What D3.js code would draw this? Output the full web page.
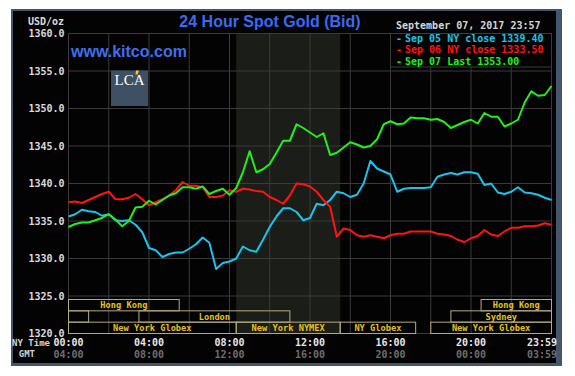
<!DOCTYPE html>
<html>
<head>
<meta charset="utf-8">
<script src="https://cdn.jsdelivr.net/npm/d3@7"></script>
<style>
  body { margin: 0; background: #fff; }
  svg text { font-family: "DejaVu Sans Mono", monospace; font-weight: bold; }
</style>
</head>
<body>
<div id="chart"></div>
<script>
// one sample every 20 minutes, NY time 00:00 -> 24:00
const stepMinutes = 20;

const sep05 = [
  1335.6, 1335.9, 1336.5, 1336.3, 1336.2, 1335.7, 1335.9, 1335.1, 1335.0, 1335.1, 1334.5, 1333.5, 1331.4, 1331.1, 1330.2, 1330.6, 1330.8, 1330.8, 1331.3,
  1331.9, 1332.8, 1332.1, 1328.6, 1329.4, 1329.6, 1330.0, 1331.6, 1331.1, 1330.9, 1332.5, 1334.2, 1335.6, 1336.7, 1336.7, 1336.2, 1335.1, 1335.4,
  1337.3, 1337.1, 1337.8, 1338.9, 1338.7, 1338.2, 1338.5, 1340.0, 1343.0, 1342.0, 1341.6, 1341.2, 1338.9, 1339.3, 1339.4, 1339.4, 1339.4, 1339.5,
  1340.9, 1341.2, 1341.4, 1341.2, 1341.5, 1341.5, 1341.3, 1339.8, 1340.0, 1338.8, 1338.6, 1338.9, 1339.5, 1338.8, 1338.7, 1338.5, 1338.1, 1337.8
];
const sep06 = [
  1337.5, 1337.6, 1337.4, 1337.8, 1338.2, 1338.6, 1338.9, 1337.9, 1337.9, 1338.1, 1338.6, 1337.9, 1337.1, 1337.5, 1337.9, 1338.4, 1339.1, 1340.2, 1339.7,
  1339.7, 1339.5, 1338.2, 1338.2, 1338.4, 1339.1, 1338.9, 1339.3, 1339.2, 1339.0, 1338.9, 1338.2, 1337.8, 1337.3, 1338.4, 1340.0, 1339.9, 1339.6,
  1338.9, 1337.8, 1336.9, 1332.9, 1334.0, 1333.8, 1333.1, 1332.9, 1333.1, 1332.9, 1332.7, 1333.1, 1333.3, 1333.3, 1333.6, 1333.6, 1333.6, 1333.6,
  1333.3, 1333.2, 1333.0, 1332.5, 1332.2, 1332.7, 1333.0, 1333.8, 1333.2, 1333.0, 1333.6, 1334.1, 1334.1, 1334.3, 1334.3, 1334.4, 1334.7, 1334.5
];
const sep07 = [
  1334.2, 1334.6, 1334.8, 1334.8, 1335.1, 1335.4, 1335.9, 1335.2, 1334.3, 1335.0, 1336.8, 1336.9, 1337.7, 1337.2, 1337.8, 1338.4, 1338.7, 1339.5, 1339.5,
  1339.3, 1339.6, 1338.6, 1339.0, 1339.3, 1338.5, 1339.4, 1341.5, 1344.3, 1341.5, 1341.9, 1342.6, 1344.1, 1345.7, 1345.7, 1347.9, 1347.4, 1346.8,
  1346.2, 1346.7, 1343.8, 1344.1, 1344.8, 1345.5, 1345.2, 1344.8, 1345.0, 1345.9, 1347.9, 1348.3, 1347.9, 1348.0, 1348.8, 1348.7, 1348.7, 1348.5,
  1348.6, 1348.2, 1347.4, 1347.8, 1348.2, 1348.5, 1348.0, 1349.4, 1348.9, 1348.9, 1347.6, 1348.0, 1348.5, 1350.8, 1352.3, 1351.7, 1351.8, 1353.0
];

const legendLabels = ["Sep 05 NY close 1339.40", "Sep 06 NY close 1333.50", "Sep 07 Last 1353.00"];
const lineColors = ["#1cc4ec", "#ff1414", "#22f01c"];

const priceTicks = [1320, 1325, 1330, 1335, 1340, 1345, 1350, 1355, 1360];
const hourTicks = [0, 4, 8, 12, 16, 20, 24];
const nyLabels = ["00:00", "04:00", "08:00", "12:00", "16:00", "20:00", "23:59"];
const gmtLabels = ["04:00", "08:00", "12:00", "16:00", "20:00", "00:00", "03:59"];

// trading sessions (NY hours)
const sessionNames = ["Hong Kong", "Hong Kong", "Sydney", "London", "Sydney", "New York Globex", "New York NYMEX", "NY Globex", "New York Globex"];
const sessionStart = [0, 20.5, 0, 3.5, 19, 0, 8 + 20 / 60, 13.5, 18];
const sessionEnd   = [5.5, 24, 1, 11, 24, 8 + 20 / 60, 13.5, 17.25, 24];
const sessionRow   = [0, 0, 1, 1, 1, 2, 2, 2, 2];
const nymexHours = [8 + 20 / 60, 13.5];

const W = 575, H = 376;
const gridColor = "#3b3b3b";

const svg = d3.select("#chart").append("svg")
    .attr("width", W)
    .attr("height", H);

// frame
svg.append("rect").attr("x", 11).attr("y", 9).attr("width", 551).attr("height", 357).attr("fill", "#44566b");
svg.append("rect").attr("x", 13).attr("y", 11).attr("width", 543).attr("height", 352).attr("fill", "#030303");

const x = d3.scaleLinear().domain([0, 24]).range([68.5, 551.5]);
const y = d3.scaleLinear().domain([1320, 1360]).range([333.5, 33.5]);

// NYMEX shading
svg.append("rect")
    .attr("x", x(nymexHours[0]))
    .attr("y", y(1360))
    .attr("width", x(nymexHours[1]) - x(nymexHours[0]))
    .attr("height", y(1320) - y(1360))
    .attr("fill", "#1b1d18");

// grid
svg.append("g")
    .selectAll("line")
    .data(d3.range(0, 25, 2))
    .enter().append("line")
        .attr("x1", d => x(d)).attr("x2", d => x(d))
        .attr("y1", y(1360)).attr("y2", y(1320))
        .attr("stroke", gridColor);

svg.append("g")
    .selectAll("line")
    .data(priceTicks)
    .enter().append("line")
        .attr("x1", x(0)).attr("x2", x(24))
        .attr("y1", d => y(d)).attr("y2", d => y(d))
        .attr("stroke", gridColor);

// sessions
const rowTop = 299.5, rowH = 11.33;
const sessions = svg.append("g")
    .selectAll("g")
    .data(sessionNames.map((n, i) => ({ name: n, s: sessionStart[i], e: sessionEnd[i], row: sessionRow[i] })))
    .enter().append("g");

sessions.append("rect")
    .attr("x", d => x(d.s))
    .attr("y", d => rowTop + d.row * rowH)
    .attr("width", d => x(d.e) - x(d.s))
    .attr("height", rowH)
    .attr("fill", "none")
    .attr("stroke", "#b3ac80");

sessions.append("text")
    .attr("x", d => (x(d.s) + x(d.e)) / 2)
    .attr("y", d => rowTop + d.row * rowH + 8.8)
    .attr("text-anchor", "middle")
    .attr("font-size", "8.7px")
    .attr("fill", "#e3c21c")
    .text(d => d.name)
    .each(function(d) {
        if (this.getComputedTextLength() > x(d.e) - x(d.s)) d3.select(this).remove();
    });

// price lines
const line = d3.line()
    .x((d, i) => x(i * stepMinutes / 60))
    .y(d => y(d));

[sep05, sep06, sep07].forEach(function(series, k) {
    svg.append("path")
        .datum(series)
        .attr("d", line)
        .attr("fill", "none")
        .attr("stroke", lineColors[k])
        .attr("stroke-width", 2)
        .attr("stroke-linejoin", "round");
});

// y axis labels
const yAxis = svg.append("g")
    .attr("transform", `translate(${x(0)},0)`)
    .call(d3.axisLeft(y).tickValues(priceTicks).tickFormat(d3.format(".1f")).tickSize(0).tickPadding(4));
yAxis.select(".domain").remove();
yAxis.selectAll("text")
    .attr("font-size", "10px")
    .attr("font-family", null)
    .attr("fill", "#dadada");

svg.append("text")
    .attr("x", 64).attr("y", 25)
    .attr("text-anchor", "end")
    .attr("font-size", "10px")
    .attr("fill", "#dadada")
    .text("USD/oz");

// time labels
svg.append("g")
    .selectAll("text")
    .data(hourTicks)
    .enter().append("text")
        .attr("x", (d, i) => i === hourTicks.length - 1 ? 557 : x(d))
        .attr("y", 346)
        .attr("text-anchor", (d, i) => i === hourTicks.length - 1 ? "end" : "middle")
        .attr("font-size", "10px")
        .attr("fill", "#e6e6e6")
        .text((d, i) => nyLabels[i]);

svg.append("g")
    .selectAll("text")
    .data(hourTicks)
    .enter().append("text")
        .attr("x", (d, i) => i === hourTicks.length - 1 ? 557 : x(d))
        .attr("y", 358)
        .attr("text-anchor", (d, i) => i === hourTicks.length - 1 ? "end" : "middle")
        .attr("font-size", "10px")
        .attr("fill", "#6e6e6e")
        .text((d, i) => gmtLabels[i]);

svg.append("text")
    .attr("x", 50).attr("y", 346)
    .attr("text-anchor", "end")
    .attr("font-size", "9px")
    .attr("fill", "#d2d2d2")
    .text("NY Time");

svg.append("text")
    .attr("x", 35).attr("y", 357)
    .attr("text-anchor", "end")
    .attr("font-size", "9px")
    .attr("fill", "#d2d2d2")
    .text("GMT");

// titles
svg.append("text")
    .attr("x", 270).attr("y", 27)
    .attr("text-anchor", "middle")
    .style("font-family", "'Liberation Sans', Arial, sans-serif")
    .attr("font-size", "16px")
    .attr("fill", "#3a6af4")
    .text("24 Hour Spot Gold (Bid)");

svg.append("text")
    .attr("x", 71).attr("y", 57)
    .style("font-family", "'Liberation Sans', Arial, sans-serif")
    .attr("font-size", "16px")
    .attr("fill", "#3f6fec")
    .text("www.kitco.com");

// LCA logo
svg.append("rect").attr("x", 111).attr("y", 70.5).attr("width", 37).attr("height", 35.5).attr("fill", "#3f5064");
svg.append("polygon").attr("points", "136,70.5 139,70.5 137.5,74.5 135.5,74.5").attr("fill", "#f2d21a");
svg.append("text")
    .attr("x", 129.5).attr("y", 85)
    .attr("text-anchor", "middle")
    .style("font-family", "'Liberation Serif', 'DejaVu Serif', serif")
    .style("font-weight", "normal")
    .attr("font-size", "15px")
    .attr("fill", "#ffffff")
    .text("LCA");

// date + legend
svg.append("text")
    .attr("x", 396).attr("y", 28.5)
    .attr("font-size", "10px")
    .attr("fill", "#d6d6d6")
    .text("September 07, 2017 23:57");

svg.append("rect")
    .attr("x", x(16)).attr("y", y(1360))
    .attr("width", x(24) - x(16)).attr("height", 33.5)
    .attr("fill", "#030303")
    .attr("stroke", gridColor);

const legend = svg.append("g")
    .selectAll("g")
    .data(legendLabels)
    .enter().append("g")
        .attr("transform", (d, i) => `translate(0,${41.7 + i * 11.4})`);

legend.append("text")
    .attr("x", 396)
    .attr("font-size", "10px")
    .attr("fill", (d, i) => lineColors[i])
    .text("-");

legend.append("text")
    .attr("x", 405)
    .attr("font-size", "10px")
    .attr("fill", (d, i) => lineColors[i])
    .text(d => d);
</script>
</body>
</html>
